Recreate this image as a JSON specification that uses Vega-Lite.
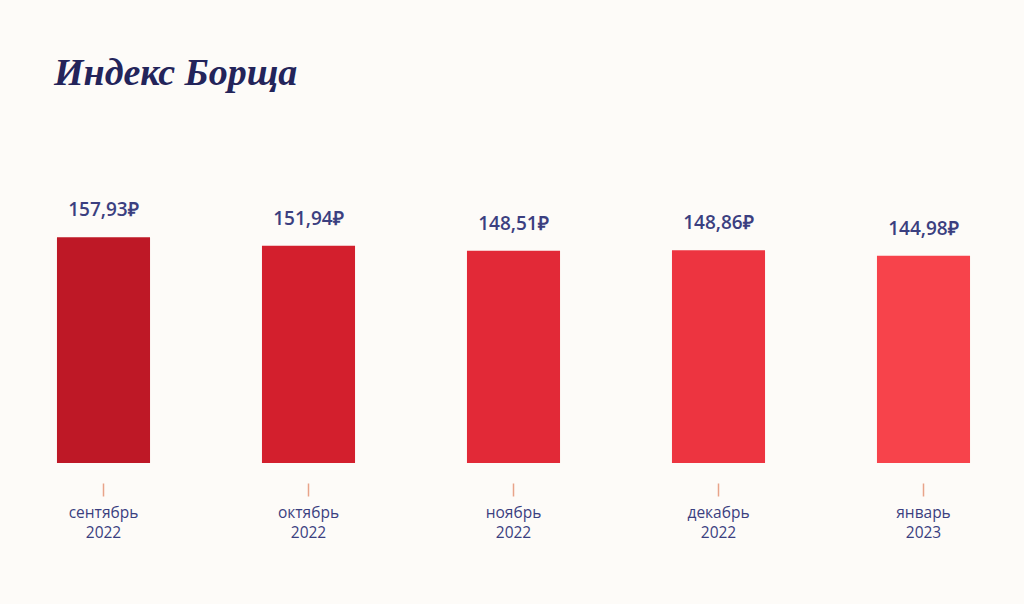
{
  "$schema": "https://vega.github.io/schema/vega-lite/v6.json",
  "width": 1025,
  "height": 286,
  "autosize": {"type": "none"},
  "padding": {"left": 1, "right": 0, "top": 177, "bottom": 141},
  "background": "#fdfbf8",
  "title": {
    "text": "Индекс Борща",
    "anchor": "start",
    "dx": 53,
    "offset": 84,
    "font": "Liberation Serif",
    "fontSize": 38,
    "fontStyle": "italic",
    "fontWeight": "bold",
    "color": "#23245a"
  },
  "config": {"view": {"stroke": null}},
  "data": {
    "values": [
      {"month": "сентябрь 2022", "value": 157.93, "label": "157,93₽", "color": "#be1826"},
      {"month": "октябрь 2022", "value": 151.94, "label": "151,94₽", "color": "#d31f2d"},
      {"month": "ноябрь 2022", "value": 148.51, "label": "148,51₽", "color": "#e22937"},
      {"month": "декабрь 2022", "value": 148.86, "label": "148,86₽", "color": "#ed3440"},
      {"month": "январь 2023", "value": 144.98, "label": "144,98₽", "color": "#f7434b"}
    ]
  },
  "encoding": {
    "x": {
      "field": "month",
      "type": "nominal",
      "sort": null,
      "scale": {"paddingInner": 0.546, "paddingOuter": 0.273},
      "axis": {
        "title": null,
        "domain": false,
        "labelAngle": 0,
        "labelExpr": "split(datum.label, ' ')",
        "labelFont": "Open Sans",
        "labelFontSize": 15.5,
        "labelColor": "#3b3f80",
        "labelLineHeight": 20,
        "labelPadding": 9,
        "offset": 20,
        "tickSize": 13,
        "tickWidth": 1.5,
        "tickColor": "#e8a389"
      }
    },
    "y": {
      "field": "value",
      "type": "quantitative",
      "scale": {"domain": [0, 200], "nice": false},
      "axis": null
    }
  },
  "layer": [
    {
      "mark": {"type": "bar"},
      "encoding": {
        "color": {"field": "color", "type": "nominal", "scale": null}
      }
    },
    {
      "mark": {
        "type": "text",
        "baseline": "alphabetic",
        "dy": -21,
        "font": "Open Sans",
        "fontSize": 19,
        "fontWeight": 600,
        "color": "#3b3f80"
      },
      "encoding": {"text": {"field": "label"}}
    }
  ]
}
